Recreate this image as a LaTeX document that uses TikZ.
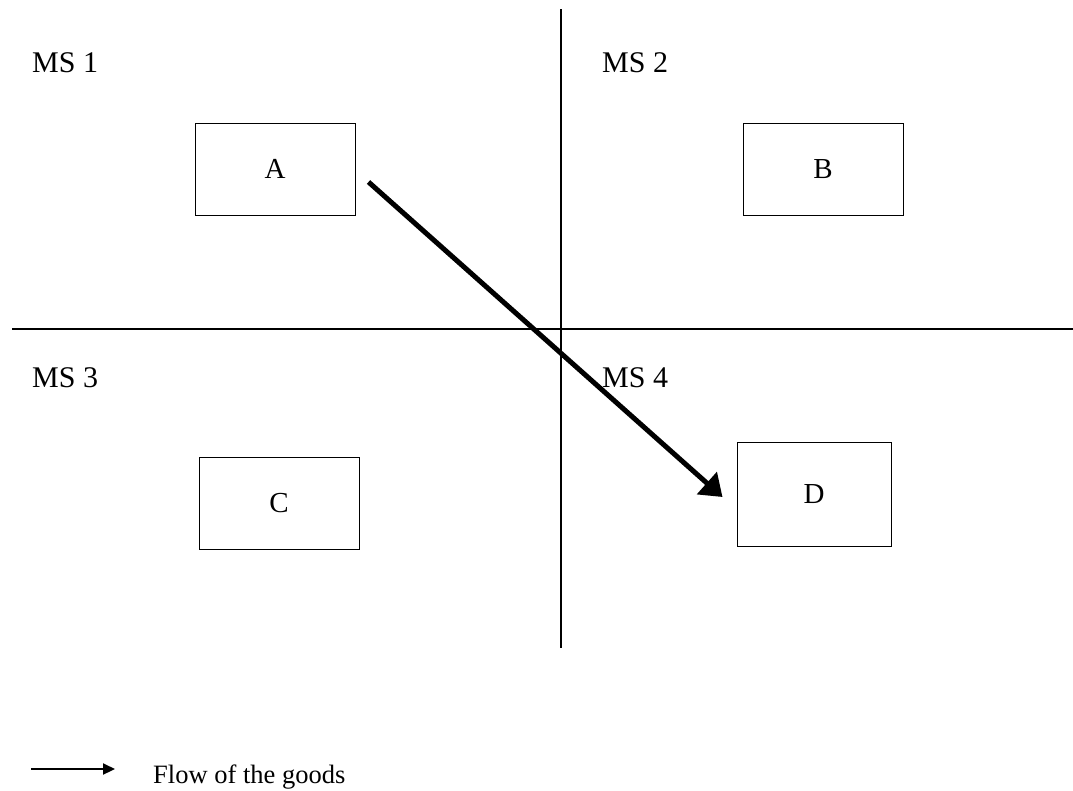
\documentclass[tikz,border=0pt]{standalone}
\usepackage{fontspec}
\setmainfont{Liberation Serif}
\usetikzlibrary{arrows.meta}
\tikzset{
  state/.style={rectangle, draw, line width=1pt, minimum width=160pt, minimum height=92pt, font=\fontsize{29}{34}\selectfont},
  ms/.style={anchor=base west, inner sep=0pt, font=\fontsize{30}{35}\selectfont},
  border/.style={line width=1.6pt},
  flow/.style={line width=5pt, -{Triangle[length=21pt,width=29pt]}}
}
\begin{document}
\begin{tikzpicture}[x=1pt,y=-1pt]
	\useasboundingbox (0,0) rectangle (1073,790);
	\coordinate (top) at (561, 9);
	\coordinate (bot) at (561, 648);
	\coordinate (lft) at ( 12, 329);
	\coordinate (rgt) at (1073, 329);
	\draw[border] (top) -- (bot);
	\draw[border] (lft) -- (rgt);
	\node (MS1) at ( 32,  72)	[ms]	{MS 1};
	\node (MS2) at (602,  72)	[ms]	{MS 2};
	\node (MS3) at ( 32, 387)	[ms]	{MS 3};
	\node (MS4) at (602, 387)	[ms]	{MS 4};
	\node (A) at (275, 169)	[state]	{A};
	\node (B) at (823, 169)	[state]	{B};
	\node (C) at (279, 503)	[state]	{C};
	\node (D) at (814, 494)	[state, minimum width=154pt, minimum height=104pt]	{D};
	\draw[flow] ([shift={(13,13)}]A.east) -- ([shift={(-14,3)}]D.west);
	\coordinate (L) at (31, 769);
	\node (legend) at (153, 783)	[anchor=base west, inner sep=0pt, font=\fontsize{26.5}{30}\selectfont]	{Flow of the goods};
	\draw[line width=2.2pt, -{Triangle[length=12pt,width=11pt]}] (L) -- ([xshift=-38pt]legend.west |- L);
\end{tikzpicture}
\end{document}
